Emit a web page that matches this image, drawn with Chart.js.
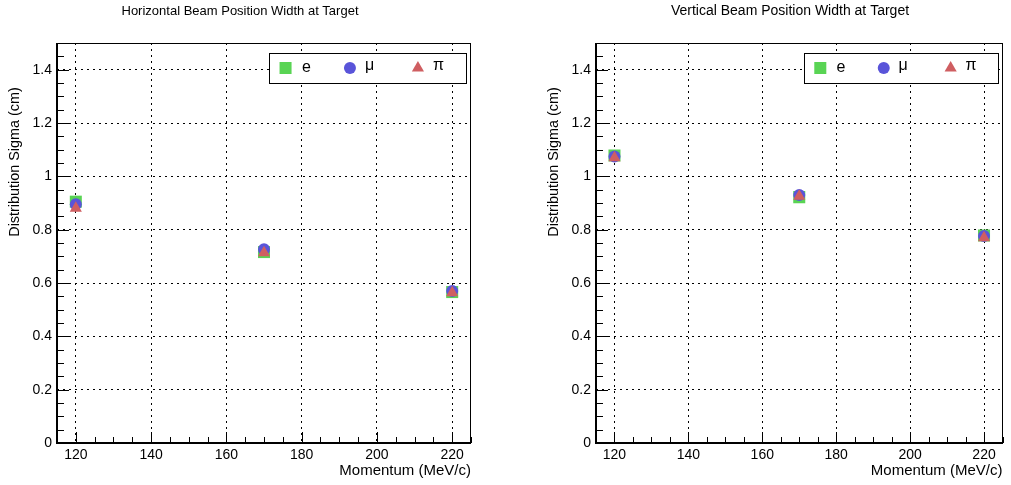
<!DOCTYPE html>
<html>
<head>
<meta charset="utf-8">
<script src="https://cdn.jsdelivr.net/npm/chart.js@4.4.0/dist/chart.umd.min.js"></script>
<style>
  body { margin: 0; background: #fff; }
  #wrap { position: relative; width: 1011px; height: 485px; }
  canvas { position: absolute; top: 0; }
</style>
</head>
<body>
<div id="wrap">
  <canvas id="hChart" width="505" height="485" style="left:0"></canvas>
  <canvas id="vChart" width="472" height="485" style="left:539px"></canvas>
</div>
<script>
/* beam width vs momentum */

var momenta = [120, 170, 220];

var horizE  = [0.905, 0.716, 0.566];
var horizMu = [0.895, 0.727, 0.570];
var horizPi = [0.880, 0.713, 0.563];

var vertE  = [1.078, 0.922, 0.778];
var vertMu = [1.074, 0.930, 0.776];
var vertPi = [1.070, 0.925, 0.770];

var xTicks = [120, 140, 160, 180, 200, 220];
var xTickLabels = ['120', '140', '160', '180', '200', '220'];
var yTicks = [0, 0.2, 0.4, 0.6, 0.8, 1, 1.2, 1.4];
var yTickLabels = ['0', '0.2', '0.4', '0.6', '0.8', '1', '1.2', '1.4'];

var seriesNames = ['e', '\u03bc', '\u03c0'];

var green = 'rgb(89,212,84)';
var blue = 'rgb(89,84,217)';
var red = 'rgb(207,94,97)';

Chart.defaults.font.family = '"Liberation Sans", Arial, Helvetica, sans-serif';
Chart.defaults.color = '#000';

function pts(vals) {
    return momenta.map(function(m, i) { return {x: m, y: vals[i]}; });
}

function makeSets(e, mu, pi) {
    return [
        {label: seriesNames[0], data: pts(e), pointStyle: 'rect', pointRadius: 8.5,
         backgroundColor: green, pointBorderWidth: 0, borderWidth: 0, order: 3},
        {label: seriesNames[1], data: pts(mu), pointStyle: 'circle', pointRadius: 6,
         backgroundColor: blue, pointBorderWidth: 0, borderWidth: 0, order: 2},
        {label: seriesNames[2], data: pts(pi), pointStyle: 'triangle', pointRadius: 7,
         backgroundColor: red, pointBorderWidth: 0, borderWidth: 0, order: 1}
    ];
}

// ROOT style frame: inner ticks, box, y title, main title, legend
var rootFrame = {
    id: 'rootFrame',
    afterDraw: function(chart, args, opts) {
        var ctx = chart.ctx, a = chart.chartArea;
        var xs = chart.scales.x, ys = chart.scales.y;
        ctx.save();
        ctx.strokeStyle = '#000';
        ctx.lineWidth = 1;

        ctx.beginPath();
        for (var i = 0; i <= 22; i++) {
            var v = 115 + i * 5;
            var px = Math.round(xs.getPixelForValue(v)) + 0.5;
            var len = (v % 20 === 0) ? 11 : 6;
            ctx.moveTo(px, a.bottom);
            ctx.lineTo(px, a.bottom - len);
        }
        for (var j = 0; j <= 30; j++) {
            var py = Math.round(ys.getPixelForValue(j * 0.05)) + 0.5;
            var l2 = (j % 4 === 0) ? 12 : 7;
            ctx.moveTo(a.left, py);
            ctx.lineTo(a.left + l2, py);
        }
        ctx.stroke();

        // box
        var L = Math.round(a.left), T = Math.round(a.top), R = Math.round(a.right), B = Math.round(a.bottom);
        ctx.strokeRect(L + 0.5, T + 0.5, R - L - 1, B - T - 1);
        ctx.lineWidth = 2;
        ctx.beginPath();
        ctx.moveTo(L, T); ctx.lineTo(L, B); ctx.lineTo(R, B);
        ctx.stroke();

        // main title
        ctx.fillStyle = '#000';
        ctx.font = opts.titleSize + 'px "Liberation Sans", Arial, sans-serif';
        ctx.textAlign = 'center';
        ctx.textBaseline = 'middle';
        ctx.fillText(opts.title, opts.titleX, 11);

        // y title
        ctx.save();
        ctx.translate(opts.yTitleX, 162);
        ctx.rotate(-Math.PI / 2);
        ctx.font = '14.4px "Liberation Sans", Arial, sans-serif';
        ctx.fillText('Distribution Sigma (cm)', 0, 0);
        ctx.restore();

        // legend
        var w = a.right - a.left;
        var lx0 = Math.round(a.left + w * 0.512), lx1 = Math.round(a.left + w * 0.988);
        var ly0 = 53, ly1 = 83;
        ctx.fillStyle = '#fff';
        ctx.fillRect(lx0, ly0, lx1 - lx0, ly1 - ly0);
        ctx.lineWidth = 1;
        ctx.strokeRect(lx0 + 0.5, ly0 + 0.5, lx1 - lx0, ly1 - ly0);
        var lw = lx1 - lx0, cy = (ly0 + ly1) / 2;
        var markFrac = [0.084, 0.411, 0.756];
        var textFrac = [0.168, 0.487, 0.832];
        ctx.font = '16px "Liberation Sans", Arial, sans-serif';
        ctx.textAlign = 'left';
        chart.data.datasets.forEach(function(ds, k) {
            ctx.fillStyle = ds.backgroundColor;
            Chart.helpers.drawPoint(ctx, {pointStyle: ds.pointStyle, radius: ds.pointRadius, rotation: 0, borderWidth: 0},
                lx0 + lw * markFrac[k], cy);
            ctx.fillStyle = '#000';
            ctx.fillText(ds.label, lx0 + lw * textFrac[k], cy - (k > 0 ? 2 : 0));
        });
        ctx.restore();
    }
};

function makeOptions(padRight, title, titleX, titleSize, yTitleX) {
    return {
        responsive: false,
        animation: false,
        events: [],
        layout: {padding: {top: 43, right: padRight, left: 0, bottom: 0}},
        plugins: {
            legend: {display: false},
            tooltip: {enabled: false},
            rootFrame: {title: title, titleX: titleX, titleSize: titleSize, yTitleX: yTitleX}
        },
        scales: {
            x: {
                type: 'linear',
                min: 115,
                max: 225,
                afterBuildTicks: function(s) { s.ticks = xTicks.map(function(v) { return {value: v}; }); },
                afterFit: function(s) { s.height = 42; },
                ticks: {
                    font: {size: 14},
                    padding: 4,
                    maxRotation: 0,
                    callback: function(v, i) { return xTickLabels[i]; }
                },
                grid: {color: '#000', lineWidth: 1, drawTicks: false},
                border: {display: false, dash: [2, 4]},
                title: {display: true, text: 'Momentum (MeV/c)', align: 'end',
                        font: {size: 15}, padding: {top: 0, bottom: 5}}
            },
            y: {
                type: 'linear',
                min: 0,
                max: 1.5,
                afterBuildTicks: function(s) { s.ticks = yTicks.map(function(v) { return {value: v}; }); },
                afterFit: function(s) { s.width = 57; },
                ticks: {
                    font: {size: 14},
                    padding: 5,
                    callback: function(v, i) { return yTickLabels[i]; }
                },
                grid: {
                    color: function(c) { return c.tick && c.tick.value === 0 ? 'rgba(0,0,0,0)' : '#000'; },
                    lineWidth: 1,
                    drawTicks: false
                },
                border: {display: false, dash: [2, 4]}
            }
        }
    };
}

var hChart = new Chart(document.getElementById('hChart').getContext('2d'), {
    type: 'scatter',
    data: {datasets: makeSets(horizE, horizMu, horizPi)},
    options: makeOptions(34, 'Horizontal Beam Position Width at Target', 240, 13, 15),
    plugins: [rootFrame]
});

var vChart = new Chart(document.getElementById('vChart').getContext('2d'), {
    type: 'scatter',
    data: {datasets: makeSets(vertE, vertMu, vertPi)},
    options: makeOptions(7, 'Vertical Beam Position Width at Target', 251, 14, 15),
    plugins: [rootFrame]
});
</script>
</body>
</html>
